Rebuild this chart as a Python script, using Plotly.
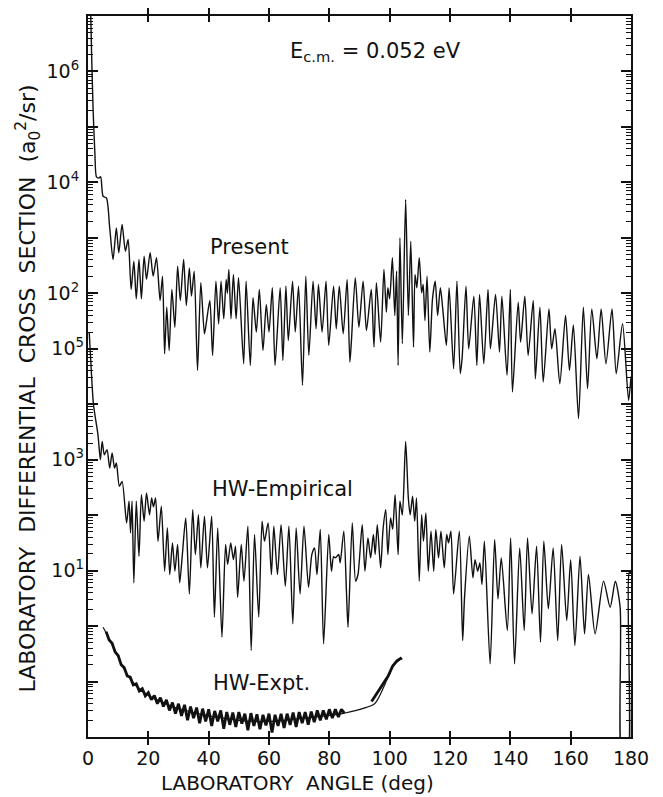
import plotly.graph_objects as go

# ---------------- data ----------------
present_angle = [0.8, 1.2, 1.7, 2.3, 2.8, 3.6, 4.2, 5.0, 6.1, 7.2, 8.3, 9.4, 10.2, 11.3, 12.4, 13.3, 14.3, 15.2,
                 16.0, 16.9, 17.7, 18.6, 19.4, 20.6, 21.6, 22.7, 23.9, 24.7, 25.4, 26.1, 26.9, 27.8, 28.8, 29.7,
                 30.6, 31.7, 32.6, 33.6, 34.3, 35.2, 36.3, 37.4, 38.6, 39.3, 40.4, 41.3, 42.4, 43.3, 44.1, 45.0,
                 45.8, 46.2, 46.7, 47.4, 48.2, 49.1, 49.9, 51.6, 52.4, 53.8, 54.7, 55.8, 56.8, 58.0, 59.1, 60.0,
                 61.1, 62.0, 63.7, 64.6, 65.6, 66.4, 67.8, 68.7, 69.8, 71.1, 72.2, 73.2, 74.6, 75.6, 76.4, 77.6,
                 78.9, 79.8, 81.4, 82.3, 83.3, 84.6, 85.9, 86.8, 87.3, 88.6, 89.8, 91.2, 92.3, 93.9, 94.8, 95.6,
                 97.0, 98.1, 98.9, 99.4, 100.0, 100.9, 101.7, 102.3, 102.8, 103.4, 104.2, 105.3, 106.2, 107.0,
                 107.9, 108.4, 109.0, 109.8, 110.6, 111.1, 111.7, 112.4, 113.3, 114.2, 115.1, 115.9, 116.8, 117.6,
                 118.8, 119.7, 121.2, 122.3, 123.4, 124.0, 125.3, 126.2, 127.9, 128.9, 129.8, 131.2, 132.6, 133.4,
                 135.1, 136.4, 137.2, 138.9, 140.0, 140.7, 142.6, 143.4, 144.8, 145.9, 147.6, 148.3, 149.8, 150.9,
                 152.8, 153.7, 154.8, 156.4, 158.3, 159.6, 160.9, 162.6, 164.2, 165.6, 167.0, 168.7, 170.1, 171.7,
                 173.7, 175.1, 177.2, 179.2, 180.0]
present_dcs = [2.0e7, 2.0e6, 2.0e5, 3.16e4, 1.26e4, 1.2e4, 1.26e4, 5.62e3, 5.25e3, 1.51e3, 407, 1.51e3, 537, 1.74e3,
               575, 933, 117, 380, 79.4, 407, 79.4, 468, 178, 537, 204, 437, 74.1, 204, 8.13, 56.2, 9.33, 117, 24.5,
               309, 74.1, 407, 60.3, 288, 89.1, 251, 4.07, 155, 18.6, 31.6, 74.1, 7.59, 166, 28.2, 166, 34.7, 178,
               100, 269, 34.7, 219, 34.7, 191, 5.37, 166, 5.01, 83.2, 20.0, 117, 9.33, 63.1, 20.0, 126, 5.01, 126,
               6.17, 135, 14.1, 166, 20.0, 135, 2.19, 204, 7.59, 166, 22.9, 145, 20.0, 166, 11.5, 135, 22.9, 135,
               18.6, 178, 5.75, 13.2, 191, 24.5, 166, 21.4, 117, 10.7, 155, 13.2, 269, 45.7, 126, 79.4, 437, 39.8,
               251, 5.01, 1000, 12.3, 4.9e3, 39.8, 871, 10.7, 219, 126, 437, 102, 145, 32.4, 204, 8.71, 79.4, 166,
               39.8, 126, 52.5, 11.5, 126, 4.37, 166, 3.55, 6.61, 135, 10.0, 89.1, 5.01, 95.5, 5.37, 117, 10.0,
               95.5, 8.71, 89.1, 3.31, 117, 1.66, 69.2, 13.2, 89.1, 7.59, 74.1, 2.88, 56.2, 2.51, 52.5, 10.0, 22.9,
               2.34, 39.8, 4.07, 26.9, 0.55, 56.2, 1.91, 52.5, 6.61, 52.5, 5.37, 52.5, 3.55, 28.2, 1.17, 3.16]

hwemp_angle = [0.4, 0.8, 1.3, 1.8, 2.4, 3.3, 4.1, 4.7, 5.4, 6.3, 7.2, 8.0, 8.8, 9.4, 10.4, 11.3, 12.8, 13.6, 14.1,
               14.6, 15.2, 16.0, 16.9, 17.7, 18.6, 19.4, 20.4, 21.1, 21.7, 22.4, 23.2, 24.3, 25.4, 26.3, 27.1, 28.0,
               28.8, 29.7, 30.4, 31.3, 32.4, 33.6, 34.7, 35.6, 36.6, 37.4, 38.6, 39.6, 41.0, 41.9, 43.0, 44.4, 45.6,
               46.3, 47.3, 48.2, 48.9, 49.6, 50.8, 51.7, 53.0, 54.1, 55.2, 56.6, 57.7, 58.5, 59.7, 60.8, 61.6, 62.8,
               64.0, 65.4, 66.6, 67.9, 69.0, 70.3, 71.6, 73.1, 74.2, 75.1, 75.9, 77.0, 78.1, 79.8, 80.7, 81.4, 82.0,
               83.1, 83.6, 84.8, 85.7, 86.2, 87.6, 88.7, 89.5, 90.9, 91.8, 92.8, 93.7, 94.6, 95.2, 95.9, 97.0, 97.8,
               98.7, 99.4, 100.3, 101.0, 101.8, 102.8, 103.4, 104.2, 105.3, 106.2, 106.8, 107.6, 108.3, 108.9,
               109.8, 110.6, 111.2, 112.0, 112.8, 113.7, 114.6, 115.3, 116.2, 117.0, 118.1, 118.9, 119.5, 120.3,
               121.2, 123.1, 124.2, 124.8, 126.4, 127.6, 128.3, 129.2, 129.9, 130.6, 131.4, 133.3, 134.8, 135.9,
               137.0, 139.0, 140.1, 141.4, 143.1, 144.6, 145.7, 147.2, 148.7, 150.0, 151.1, 152.6, 154.2, 155.7,
               157.0, 158.7, 160.0, 161.4, 163.1, 164.6, 165.9, 168.1, 170.9, 173.1, 174.8, 176.4, 177.2, 178.8,
               179.4, 180.0]
hwemp_dcs = [2.0e5, 7.94e4, 2.51e4, 1.0e4, 5.89e3, 2.82e3, 1.0e3, 2.14e3, 1.23e3, 1.51e3, 708, 1.32e3, 708, 871, 331,
             407, 72.4, 178, 47.9, 178, 6.03, 178, 18.2, 234, 77.6, 251, 102, 204, 141, 204, 33.9, 145, 9.77, 58.9,
             8.51, 31.6, 9.77, 29.5, 6.03, 20.0, 89.1, 3.80, 126, 19.5, 102, 11.2, 95.5, 11.2, 95.5, 1.45, 58.9,
             0.631, 29.5, 12.9, 31.6, 15.8, 27.5, 3.31, 29.5, 6.46, 63.1, 0.363, 44.7, 1.45, 77.6, 33.9, 72.4, 8.51,
             63.1, 8.51, 67.6, 5.25, 63.1, 1.10, 58.9, 3.80, 63.1, 5.01, 19.5, 25.7, 8.51, 55.0, 0.479, 44.7, 9.77,
             17.8, 17.0, 19.5, 13.8, 51.3, 3.80, 0.955, 72.4, 6.46, 8.51, 67.6, 9.77, 38.9, 17.0, 44.7, 19.5, 67.6,
             11.2, 55.0, 126, 19.5, 89.1, 56.2, 234, 19.5, 178, 100, 2.14e3, 200, 102, 219, 77.6, 204, 6.46, 102,
             33.9, 110, 9.77, 51.3, 9.77, 55.0, 17.0, 51.3, 11.2, 44.7, 31.6, 51.3, 3.80, 51.3, 0.550, 3.16, 41.7,
             7.41, 15.8, 9.77, 13.8, 5.62, 33.9, 0.209, 36.3, 3.09, 17.0, 0.832, 38.9, 0.209, 25.7, 0.832, 38.9,
             1.66, 27.5, 0.513, 33.9, 2.04, 25.7, 0.550, 29.5, 1.26, 15.8, 0.447, 18.2, 0.724, 8.51, 0.724, 6.46,
             2.19, 6.46, 2.19, 0.00316, 0.00316, 9.12, 9.12]

expt_fit_angle = [5.0, 6, 7, 8, 10, 12, 14, 16, 18, 20, 22, 25, 28, 31, 35, 40, 45, 50, 55, 60, 65, 70, 75, 80, 85,
                  95, 97, 99, 101, 103, 104.2]
expt_fit_dcs = [0.955, 0.759, 0.589, 0.468, 0.282, 0.166, 0.112, 0.0832, 0.0676, 0.0562, 0.0490, 0.0417, 0.0355,
                0.0316, 0.0275, 0.0240, 0.0219, 0.0200, 0.0191, 0.0191, 0.0200, 0.0214, 0.0229, 0.0245, 0.0269,
                0.0398, 0.0603, 0.105, 0.182, 0.240, 0.257]

expt_data_angle = [6, 7, 8, 9, 10, 11, 12, 13, 14, 15, 16, 17, 18, 19, 20, 21, 22, 23, 24, 25, 26, 27, 28, 29, 30,
                   31, 32, 33, 34, 35, 36, 37, 38, 39, 40, 41, 42, 43, 44, 45, 46, 47, 48, 49, 50, 51, 52, 53, 54,
                   55, 56, 57, 58, 59, 60, 61, 62, 63, 64, 65, 66, 67, 68, 69, 70, 71, 72, 73, 74, 75, 76, 77, 78,
                   79, 80, 81, 82, 83, 84, 85, None, 94, 95, 96, 97, 99.5, 101, 102.5, 104]
expt_data_dcs = [0.794, 0.562, 0.490, 0.339, 0.295, 0.200, 0.178, 0.126, 0.120, 0.0871, 0.0912, 0.0676, 0.0741,
                 0.0550, 0.0631, 0.0468, 0.0562, 0.0398, 0.0513, 0.0355, 0.0468, 0.0302, 0.0417, 0.0263, 0.0398,
                 0.0240, 0.0380, 0.0200, 0.0355, 0.0219, 0.0339, 0.0178, 0.0324, 0.0191, 0.0316, 0.0158, 0.0295,
                 0.0191, 0.0302, 0.0141, 0.0282, 0.0166, 0.0275, 0.0151, 0.0282, 0.0174, 0.0263, 0.0132, 0.0269,
                 0.0158, 0.0257, 0.0138, 0.0251, 0.0162, 0.0263, 0.0120, 0.0251, 0.0158, 0.0263, 0.0145, 0.0263,
                 0.0166, 0.0275, 0.0151, 0.0282, 0.0178, 0.0282, 0.0166, 0.0288, 0.0186, 0.0302, 0.0200, 0.0302,
                 0.0209, 0.0316, 0.0219, 0.0316, 0.0229, 0.0316, 0.0269, None, 0.0437, 0.0525, 0.0631, 0.0759,
                 0.126, 0.191, 0.240, 0.269]

x_ticks = [0, 20, 40, 60, 80, 100, 120, 140, 160, 180]
present_tickvals = [1e2, 1e4, 1e6]
present_ticktext = ["10<sup>2</sup>", "10<sup>4</sup>", "10<sup>6</sup>"]
hw_tickvals = [1e1, 1e3, 1e5]
hw_ticktext = ["10<sup>1</sup>", "10<sup>3</sup>", "10<sup>5</sup>"]
hw_decades = [10.0 ** k for k in range(-2, 12)]
hw_minor_tickvals = [m * d for d in hw_decades[:-1] for m in range(2, 10)]

# ---------------- figure ----------------
FONT = "DejaVu Sans"
INK = "#111111"
fig = go.Figure()

fig.add_trace(go.Scatter(x=present_angle, y=present_dcs, mode="lines", yaxis="y",
                         line=dict(color=INK, width=1.4, shape="spline", smoothing=0.7), showlegend=False))
fig.add_trace(go.Scatter(x=hwemp_angle, y=hwemp_dcs, mode="lines", yaxis="y2",
                         line=dict(color=INK, width=1.4, shape="spline", smoothing=0.7), showlegend=False))
fig.add_trace(go.Scatter(x=expt_fit_angle, y=expt_fit_dcs, mode="lines", yaxis="y4",
                         line=dict(color=INK, width=1.2, shape="spline", smoothing=0.8), showlegend=False))
fig.add_trace(go.Scatter(x=expt_data_angle, y=expt_data_dcs, mode="lines", yaxis="y3",
                         line=dict(color=INK, width=2.8), showlegend=False, connectgaps=False))

fig.update_layout(
    width=655, height=789,
    margin=dict(l=80, r=32, t=6, b=60),
    paper_bgcolor="white", plot_bgcolor="white",
    font=dict(family=FONT, color=INK),
    xaxis=dict(range=[0, 180], tickvals=x_ticks, ticks="inside", ticklen=6, tickwidth=1.5,
               tickcolor=INK, showline=True, linewidth=2, linecolor=INK, mirror="allticks",
               showgrid=False, zeroline=False, tickfont=dict(size=19, family=FONT),
               ticklabelstandoff=3),
    # Present scale: frame + labels 10^2, 10^4, 10^6
    yaxis=dict(type="log", range=[-6, 7], tickvals=present_tickvals, ticktext=present_ticktext,
               ticks="", showline=True, linewidth=2, linecolor=INK, mirror=True,
               showgrid=False, zeroline=False,
               tickfont=dict(size=19, family=FONT), ticklabelstandoff=3),
    # HW scale: short intermediate (2..9) tick marks, both sides
    yaxis2=dict(type="log", range=[-2, 11], overlaying="y", side="left",
                tickmode="array", tickvals=hw_minor_tickvals, ticks="inside", ticklen=5, tickwidth=1.2,
                tickcolor=INK, showticklabels=False, showline=True, linewidth=2, linecolor=INK,
                mirror="allticks", showgrid=False, zeroline=False),
    # same HW scale, carrying the 10^1, 10^3, 10^5 labels
    yaxis3=dict(type="log", range=[-2, 11], overlaying="y", side="left",
                tickmode="array", tickvals=hw_tickvals, ticktext=hw_ticktext, ticks="", showline=False,
                showgrid=False, zeroline=False,
                tickfont=dict(size=19, family=FONT), ticklabelstandoff=3),
    # same HW scale, long decade tick marks, both sides
    yaxis4=dict(type="log", range=[-2, 11], overlaying="y", side="left",
                tickmode="linear", dtick=1, tick0=0, ticks="inside", ticklen=10, tickwidth=1.5,
                tickcolor=INK, showticklabels=False, showline=True, linewidth=2, linecolor=INK,
                mirror="allticks", showgrid=False, zeroline=False),
)

ann = dict(xref="paper", yref="paper", showarrow=False, xanchor="center", yanchor="middle",
           font=dict(family=FONT, size=21, color=INK))
fig.add_annotation(x=0.530, y=0.950, text="E<sub>c.m.</sub> = 0.052 eV", **ann)
fig.add_annotation(x=0.297, y=0.680, text="Present", **ann)
fig.add_annotation(x=0.359, y=0.344, text="HW-Empirical", **ann)
fig.add_annotation(x=0.319, y=0.075, text="HW-Expt.", **ann)
fig.add_annotation(x=0.385, y=-0.064, text="LABORATORY  ANGLE (deg)", xref="paper", yref="paper",
                   xanchor="center", yanchor="middle", showarrow=False,
                   font=dict(family=FONT, size=20, color=INK))
fig.add_annotation(x=-0.111, y=0.483,
                   text="LABORATORY  DIFFERENTIAL  CROSS  SECTION  (a<sub>0</sub><sup>2</sup>/sr)",
                   textangle=-90, xref="paper", yref="paper", xanchor="center", yanchor="middle",
                   showarrow=False, font=dict(family=FONT, size=22, color=INK))

fig.write_html("out.html")
